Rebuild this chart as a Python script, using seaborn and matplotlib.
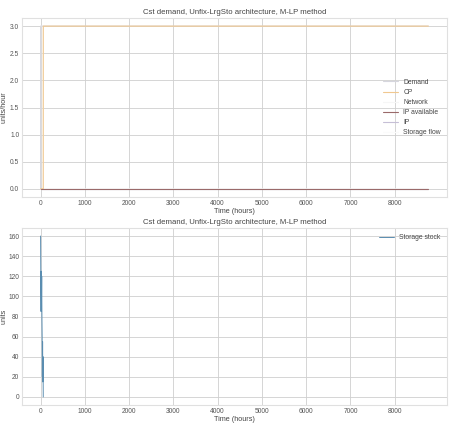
import matplotlib
matplotlib.use("Agg")
import matplotlib.pyplot as plt
import seaborn as sns

# flows (units/hour)
hours = [0, 1, 60, 61, 8760]
demand = [0, 3, 3, 3, 3]
cp = [0, 0, 0, 3, 3]
network = [0, 0, 0, 0, 0]
ip_available = [0, 0, 0, 0, 0]
ip = [0, 0, 0, 0, 0]
storage_flow = [0, 3, 3, 0, 0]

# storage stock (units)
stock_hours = [0, 5, 10, 15, 20, 25, 30, 35, 40, 45, 50, 55, 60]
stock = [160, 120, 85, 125, 95, 120, 80, 60, 20, 55, 15, 40, 0]

title = "Cst demand, Unfix-LrgSto architecture, M-LP method"

sns.set_style("whitegrid", {"grid.color": "#cfcfcf", "axes.edgecolor": "#e0e0e0"})
plt.rcParams["font.family"] = ["Liberation Sans", "DejaVu Sans"]
plt.rcParams["text.color"] = "#444444"
plt.rcParams["axes.labelcolor"] = "#444444"
plt.rcParams["xtick.color"] = "#555555"
plt.rcParams["ytick.color"] = "#555555"

fig = plt.figure(figsize=(4.56, 4.30), dpi=100)
ax1 = fig.add_axes([22 / 456, 1 - 197 / 430, 425 / 456, 179 / 430])
ax2 = fig.add_axes([22 / 456, 1 - 405 / 430, 425 / 456, 177 / 430])

series = [
    ("Demand", demand, "#d6d6de", 2),
    ("CP", cp, "#f0c890", 3),
    ("Network", network, "#f6f6f6", 2),
    ("IP available", ip_available, "#9a6a6a", 3),
    ("IP", ip, "#c6bfd6", 2),
    ("Storage flow", storage_flow, "#fbfbfb", 1),
]
for name, vals, col, z in series:
    sns.lineplot(x=hours, y=vals, ax=ax1, label=name, color=col, linewidth=0.8, zorder=z)

sns.lineplot(x=stock_hours, y=stock, ax=ax2, label="Storage stock", color="#5a8db0", linewidth=0.7)

for ax, ylab in [(ax1, "units/hour"), (ax2, "units")]:
    ax.set_title(title, fontsize=5.6, pad=3)
    ax.set_xlabel("Time (hours)", fontsize=5.2, labelpad=1)
    ax.set_ylabel(ylab, fontsize=5.2)
    ax.yaxis.set_label_coords(-0.033, 0.5)
    ax.tick_params(labelsize=4.8, pad=2, length=0)
    ax.set_xticks([0, 1000, 2000, 3000, 4000, 5000, 6000, 7000, 8000])
    ax.set_xlim(-420, 9180)
    ax.grid(True, linewidth=0.6)

ax1.set_yticks([0.0, 0.5, 1.0, 1.5, 2.0, 2.5, 3.0])
ax2.set_yticks([0, 20, 40, 60, 80, 100, 120, 140, 160])

ax1.legend(loc="center right", fontsize=4.9, frameon=False, handlelength=2.2, labelspacing=0.45)
ax2.legend(loc="upper right", fontsize=4.9, frameon=False, handlelength=2.2)

fig.savefig("out.png", dpi=100)
